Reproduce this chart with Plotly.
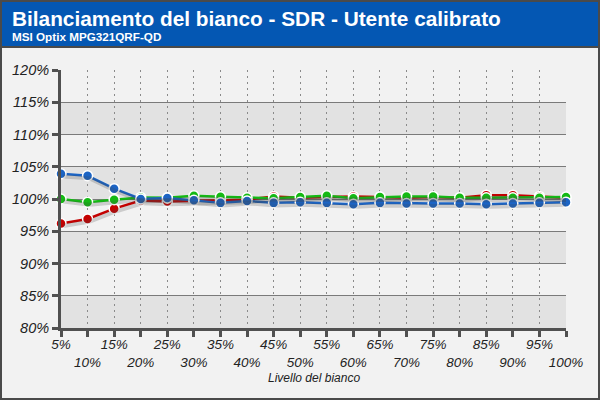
import plotly.graph_objects as go

levels = [5, 10, 15, 20, 25, 30, 35, 40, 45, 50, 55, 60, 65, 70, 75, 80, 85, 90, 95, 100]
red = [96.2, 96.9, 98.5, 99.75, 99.6, 99.7, 99.9, 99.9, 100.4, 100.2, 100.3, 100.4, 100.3, 100.2, 100.3, 100.2, 100.6, 100.6, 100.4, 100.2]
green = [100.0, 99.5, 99.9, 100.25, 100.2, 100.5, 100.35, 100.2, 100.1, 100.3, 100.5, 100.1, 100.3, 100.4, 100.4, 100.2, 100.2, 100.2, 100.2, 100.3]
blue = [103.9, 103.6, 101.6, 100.0, 100.15, 99.8, 99.4, 99.7, 99.4, 99.5, 99.4, 99.2, 99.4, 99.3, 99.3, 99.3, 99.2, 99.3, 99.4, 99.5]

x_tickvals = levels
x_ticktext = [f"{v}%" if i % 2 == 0 else f"<br>{v}%" for i, v in enumerate(levels)]
y_tickvals = [80, 85, 90, 95, 100, 105, 110, 115, 120]
y_ticktext = [f"{v}%" for v in y_tickvals]

series = [("Rosso", red, "#c40000"), ("Verde", green, "#14b914"), ("Blu", blue, "#1c64c4")]

W, H = 600, 400
L, R, T, B = 61, 34, 70, 72
pw, ph = W - L - R, H - T - B

fig = go.Figure()

# shadows (drawn on a shifted twin axis)
for name, vals, col in series:
    fig.add_trace(go.Scatter(x=levels, y=vals, mode="lines", xaxis="x2", yaxis="y2",
                             line=dict(color="rgba(70,70,70,0.22)", width=4),
                             hoverinfo="skip", showlegend=False))
for name, vals, col in series:
    fig.add_trace(go.Scatter(x=levels, y=vals, mode="lines+markers", name=name,
                             line=dict(color=col, width=2.5),
                             marker=dict(size=10, color=col, line=dict(color="white", width=1.5)),
                             showlegend=False, cliponaxis=False))

shapes = []
# alternating bands
for i in range(len(y_tickvals) - 1):
    if i % 2 == 0:
        shapes.append(dict(type="rect", xref="paper", yref="y", x0=0, x1=1,
                           y0=y_tickvals[i], y1=y_tickvals[i + 1],
                           fillcolor="#e2e2e2", line=dict(width=0), layer="below"))
# header band
shapes.append(dict(type="rect", xref="paper", yref="paper",
                   x0=-L / pw, x1=(W - L) / pw, y0=(ph + T - 47) / ph, y1=(ph + T) / ph,
                   fillcolor="#0457b3", line=dict(width=0), layer="below"))
shapes.append(dict(type="line", xref="paper", yref="paper",
                   x0=-L / pw, x1=(W - L) / pw, y0=(ph + T - 47) / ph, y1=(ph + T - 47) / ph,
                   line=dict(color="#4a4a4a", width=2), layer="above"))
# outer border
shapes.append(dict(type="rect", xref="paper", yref="paper",
                   x0=(-L + 1) / pw, x1=(W - L - 1) / pw, y0=(-B + 1) / ph, y1=(ph + T - 1) / ph,
                   fillcolor="rgba(0,0,0,0)", line=dict(color="#4a4a4a", width=2), layer="above"))

annotations = [
    dict(text="<b>Bilanciamento del bianco - SDR - Utente calibrato</b>", xref="paper", yref="paper",
         x=(10 - L) / pw, y=(ph + T - 18) / ph, xanchor="left", yanchor="middle", showarrow=False,
         font=dict(family="Liberation Sans, Arial", size=20.8, color="white")),
    dict(text="<b>MSI Optix MPG321QRF-QD</b>", xref="paper", yref="paper",
         x=(10 - L) / pw, y=(ph + T - 36) / ph, xanchor="left", yanchor="middle", showarrow=False,
         font=dict(family="Liberation Sans, Arial", size=11.7, color="white")),
    dict(text="Livello del bianco", xref="paper", yref="paper",
         x=0.5, y=-(378 - (T + ph)) / ph, xanchor="center", yanchor="middle", showarrow=False,
         font=dict(family="Liberation Sans, Arial", size=12, color="#222", style="italic")),
]

xtickfont = dict(family="Liberation Sans, Arial", size=13.5, color="#222", style="italic")
ytickfont = dict(family="Liberation Sans, Arial", size=14.5, color="#222", style="italic")
fig.update_layout(
    width=W, height=H, margin=dict(l=L, r=R, t=T, b=B, autoexpand=False),
    paper_bgcolor="#f2f2f2", plot_bgcolor="#f2f2f2",
    shapes=shapes, annotations=annotations,
    xaxis=dict(range=[5, 100], tickvals=x_tickvals, ticktext=x_ticktext, tickfont=xtickfont,
               tickangle=0, automargin=False, ticklabelstandoff=-4,
               showgrid=True, gridcolor="#8a8a8a", griddash="2px,4px", gridwidth=1,
               showline=True, linecolor="#505050", linewidth=3,
               ticks="outside", ticklen=6, tickwidth=3, tickcolor="#505050", zeroline=False),
    yaxis=dict(range=[80, 120], tickvals=y_tickvals, ticktext=y_ticktext, tickfont=ytickfont,
               automargin=False,
               showgrid=True, gridcolor="#7a7a7a", gridwidth=1,
               showline=True, linecolor="#505050", linewidth=3,
               ticks="outside", ticklen=6, tickwidth=3, tickcolor="#505050", zeroline=False),
    xaxis2=dict(range=[5 - 0.4, 100 - 0.4], overlaying="x", visible=False),
    yaxis2=dict(range=[80 + 0.4, 120 + 0.4], overlaying="y", visible=False),
)

fig.write_html("out.html", config={"displayModeBar": False},
               post_script="document.body.style.margin='0';document.body.style.overflow='hidden';")
